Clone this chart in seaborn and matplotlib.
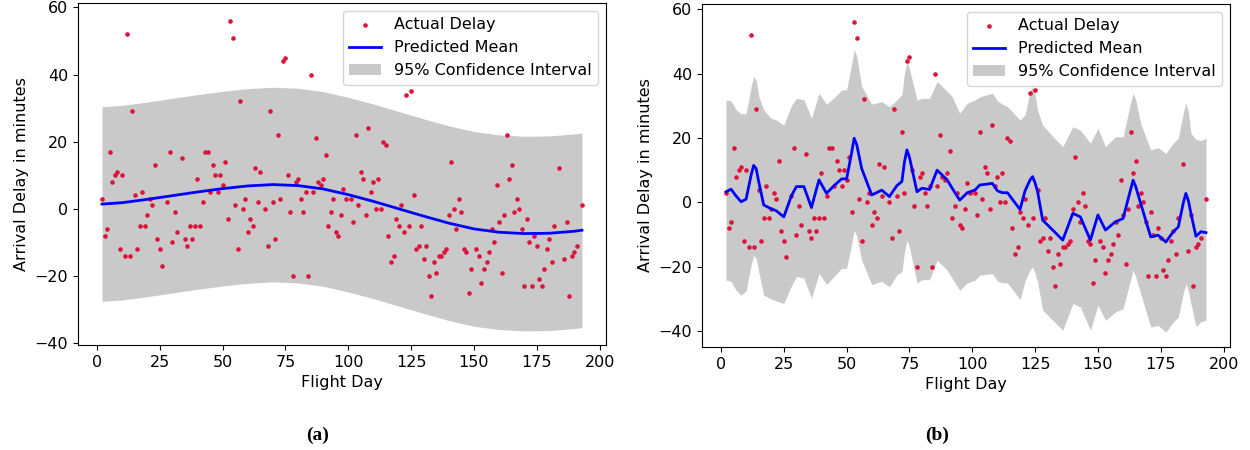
import numpy as np
import matplotlib
matplotlib.use("Agg")
import matplotlib.pyplot as plt
import seaborn as sns

# ---------------- data ----------------
days = [2,3,4,5,6,7,8,9,10,11,12,13,14,15,16,17,18,19,20,21,22,23,24,25,26,28,29,30,31,32,
        34,35,36,37,38,39,40,41,42,43,44,45,46,47,48,49,50,51,52,53,54,55,56,57,58,59,60,61,62,63,
        64,65,67,68,69,70,71,72,73,74,75,76,77,78,79,80,81,82,83,84,85,86,87,88,89,90,91,92,93,94,
        95,96,97,98,99,101,102,103,104,105,106,107,108,109,110,111,112,113,114,115,116,117,118,119,120,121,122,123,124,125,
        126,127,128,129,130,131,132,133,134,135,136,137,138,139,140,141,142,143,144,145,146,147,148,149,151,152,153,154,155,156,
        157,158,159,160,161,162,163,164,165,166,167,168,169,170,171,172,173,174,175,176,177,178,179,180,181,182,184,186,187,188,
        189,190,191,193]
delays = [3,-8,-6,17,8,10,11,-12,10,-14,52,-14,29,4,-12,-5,5,-5,-2,3,1,13,-9,-12,-17,2,17,-10,-1,-7,
          15,-9,-11,-5,-9,-5,9,-5,2,17,17,5,13,10,5,10,7,14,-3,56,51,1,-12,32,0,3,-7,-3,-5,12,
          2,11,0,-11,29,2,-9,22,3,44,45,10,-1,-20,8,9,3,-1,5,-20,40,5,21,8,7,9,16,-5,-1,3,
          -7,-8,-2,6,3,3,-4,22,1,11,9,-2,24,5,8,0,9,0,20,19,-8,-16,-14,-3,-5,1,-7,34,-5,35,
          4,-12,-11,-5,-15,-11,-20,-26,-16,-19,-14,-14,-13,-12,-2,14,0,-6,3,-1,-12,-13,-25,-18,-12,-14,-22,-18,-16,-13,
          -6,-10,7,-4,-19,-2,22,9,13,-1,3,0,-6,-23,-3,-10,-23,-8,-11,-21,-23,-18,-12,-9,-16,-5,12,-15,-4,-26,
          -14,-13,-11,1]

# panel (a): smooth model
mean_a_days = [2,10,20,30,40,50,60,70,80,90,100,110,120,130,140,150,160,170,180,190,193]
mean_a = [1.4,1.8,2.8,3.9,5.0,6.0,6.8,7.2,6.9,5.9,4.2,2.2,0.0,-2.2,-4.3,-6.0,-7.0,-7.4,-7.3,-6.7,-6.4]
upper_a = [30.4,30.8,31.8,32.9,34.0,35.0,35.8,36.2,35.9,34.9,33.2,31.2,29.0,26.8,24.7,23.0,22.0,21.6,21.7,22.3,22.6]
lower_a = [-27.6,-27.2,-26.2,-25.1,-24.0,-23.0,-22.2,-21.8,-22.1,-23.1,-24.8,-26.8,-29.0,-31.2,-33.3,-35.0,-36.0,-36.4,-36.3,-35.7,-35.4]

# panel (b): wiggly model
mean_b_days = [2,4,6,8,10,12,13,14,15,17,20,22,25,28,30,33,36,39,42,45,48,50,52,53,54,56,60,64,67,70,72,73,74,75,78,80,
               83,86,90,92,95,98,101,103,108,110,112,114,119,121,123,124,125,126,128,132,136,140,143,147,150,153,157,
               160,163,164,165,167,171,174,177,180,182,184,185,186,187,189,191,193]
mean_b = [3.3,4.1,2.0,0.2,1.0,8.5,11.5,10.5,6.5,-0.8,-2.0,-2.6,-4.5,2.0,4.9,4.9,-1.6,7.0,2.8,5.2,7.3,7.3,15.5,19.9,18.0,10.5,2.3,3.8,1.8,5.2,6.5,12.5,16.3,14.0,3.3,4.4,
          4.0,10.0,7.0,4.4,0.7,3.0,3.8,5.4,5.9,3.6,3.0,3.0,-2.2,3.6,7.0,8.0,6.0,3.3,-5.5,-8.6,-11.7,-3.4,-4.5,-11.7,-3.9,-8.6,-6.0,
          -5.0,4.0,6.9,5.0,-0.3,-10.7,-10.2,-12.3,-9.1,-7.6,0.0,2.8,0.5,-3.4,-10.5,-9.1,-9.4]
upper_b = [31.8,31.5,28.8,27.5,27.5,36.0,39.1,38.0,33.0,28.7,26.1,25.6,24.0,30.0,32.3,31.9,26.1,33.9,30.5,32.5,34.9,35.0,43.0,47.4,45.5,36.0,30.5,31.3,29.7,31.8,33.5,40.0,43.7,41.5,31.8,32.3,
           32.3,37.5,34.5,32.8,27.7,30.8,31.8,32.8,33.9,31.5,30.5,29.7,25.6,27.2,34.5,36.0,33.5,28.5,24.0,20.5,17.3,23.5,22.4,18.4,23.0,17.3,20.4,
           20.4,31.0,33.9,32.0,24.5,16.3,17.0,15.2,18.4,20.0,28.0,30.8,28.0,21.5,19.5,19.2,19.9]
lower_b = [-24.2,-24.5,-27.3,-28.8,-27.5,-19.5,-16.5,-17.5,-21.5,-28.8,-30.0,-30.6,-31.4,-26.0,-23.0,-23.5,-29.8,-22.0,-25.5,-23.0,-20.5,-20.5,-13.0,-8.6,-10.5,-18.0,-25.5,-24.5,-26.2,-22.5,-21.5,-15.5,-11.7,-14.0,-25.0,-24.0,
           -24.0,-18.0,-21.0,-23.6,-27.3,-25.0,-24.2,-22.6,-22.1,-24.4,-25.0,-25.0,-30.2,-24.4,-21.0,-20.0,-22.0,-24.7,-33.5,-36.6,-39.7,-31.4,-32.5,-39.7,-31.9,-36.6,-34.0,
           -33.0,-24.0,-21.1,-23.0,-28.3,-38.7,-38.2,-40.3,-37.1,-35.6,-28.0,-25.2,-27.5,-31.4,-38.5,-37.1,-36.6]

# ---------------- plot ----------------
plt.rcParams['font.family'] = ['DejaVu Sans']
FS = 11.5
fig = plt.figure(figsize=(12.5, 4.5), dpi=100)
ax_a = fig.add_axes([0.0624, 0.2333, 0.4224, 0.7600])
ax_b = fig.add_axes([0.5616, 0.2289, 0.4224, 0.7622])

panels = [
    (ax_a, mean_a_days, mean_a, upper_a, lower_a, (-40.6, 61.3)),
    (ax_b, mean_b_days, mean_b, upper_b, lower_b, (-44.9, 61.6)),
]
for ax, md, mv, up, lo, ylim in panels:
    sns.scatterplot(x=days, y=delays, color='crimson', s=11, linewidth=0,
                    label='Actual Delay', ax=ax, zorder=2)
    sns.lineplot(x=md, y=mv, color='blue', linewidth=2, label='Predicted Mean',
                 ax=ax, zorder=3)
    ax.fill_between(md, lo, up, color='gray', alpha=0.42, linewidth=0,
                    label='95% Confidence Interval', zorder=1)
    ax.set_xlim(-7.55, 202.55)
    ax.set_ylim(*ylim)
    ax.set_xticks([0, 25, 50, 75, 100, 125, 150, 175, 200])
    ax.set_yticks([-40, -20, 0, 20, 40, 60])
    ax.set_xlabel('Flight Day', fontsize=FS)
    ax.set_ylabel('Arrival Delay in minutes', fontsize=FS)
    ax.tick_params(labelsize=FS)
    ax.legend(loc='upper right', fontsize=FS)

fig.text(0.2544, 0.033, '(a)', ha='center', va='center', fontsize=14,
         fontweight='bold', family='Liberation Serif')
fig.text(0.7496, 0.033, '(b)', ha='center', va='center', fontsize=14,
         fontweight='bold', family='Liberation Serif')

fig.savefig('out.png', dpi=100)
